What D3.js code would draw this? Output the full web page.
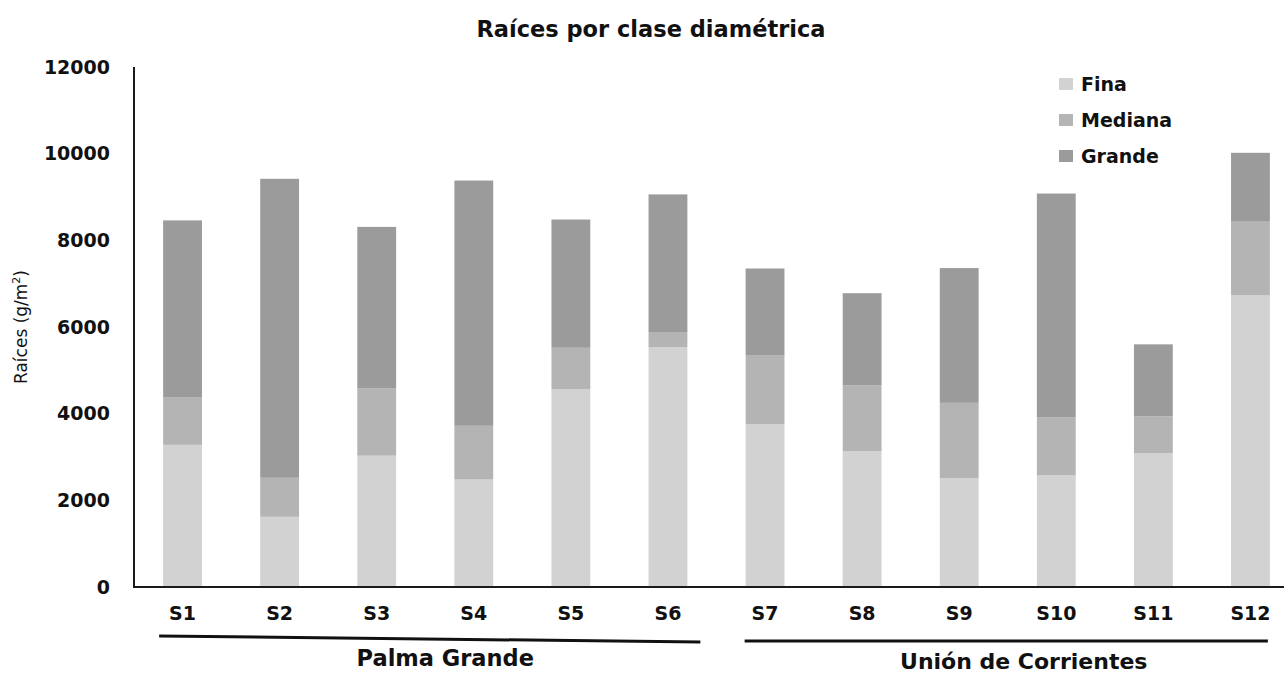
<!DOCTYPE html>
<html>
<head>
<meta charset="utf-8">
<script src="https://cdn.jsdelivr.net/npm/d3@7"></script>
<style>
  html, body { margin: 0; padding: 0; background: #fff; }
  svg { display: block; }
  text { font-family: "DejaVu Sans", sans-serif; fill: #111; }
</style>
</head>
<body>
<svg id="chart" width="1284" height="673"></svg>
<script>
// Root biomass per diameter class for each site (g/m²)
const sites   = ["S1","S2","S3","S4","S5","S6","S7","S8","S9","S10","S11","S12"];
const fina    = [3280, 1620, 3030, 2480, 4570, 5530, 3760, 3130, 2510, 2580, 3090, 6730];
const mediana = [1090,  900, 1560, 1240,  950,  340, 1580, 1520, 1740, 1340,  850, 1700];
const grande  = [4090, 6900, 3720, 5660, 2960, 3190, 2010, 2130, 3110, 5160, 1660, 1590];
const classes = ["Fina", "Mediana", "Grande"];
const colors  = ["#d2d2d2", "#b4b4b4", "#9b9b9b"];
const yTicks  = [0, 2000, 4000, 6000, 8000, 10000, 12000];
const groups  = [
  { name: "Palma Grande",        first: "S1", last: "S6" },
  { name: "Unión de Corrientes", first: "S7", last: "S12" }
];

const svg = d3.select("#chart");
const W = 1284;
const plotLeft = 134, plotBottom = 587, plotTop = 67;

const x = d3.scaleBand().domain(sites).range([plotLeft, 1299]).paddingInner(0.6).paddingOuter(0.3);
const y = d3.scaleLinear().domain([0, 12000]).range([plotBottom, plotTop]);

const rows = sites.map((s, i) => ({ site: s, Fina: fina[i], Mediana: mediana[i], Grande: grande[i] }));
const stacked = d3.stack().keys(classes)(rows);

// Title
svg.append("text")
  .attr("x", 651).attr("y", 37)
  .attr("text-anchor", "middle")
  .attr("font-size", 22.5).attr("font-weight", "bold")
  .text("Raíces por clase diamétrica");

// Stacked bars
svg.append("g").selectAll("g")
  .data(stacked)
  .join("g")
  .attr("fill", (d, i) => colors[i])
  .selectAll("rect")
  .data(d => d)
  .join("rect")
  .attr("x", d => x(d.data.site))
  .attr("width", x.bandwidth())
  .attr("y", d => y(d[1]))
  .attr("height", d => y(d[0]) - y(d[1]));

// Y axis
const yAxis = svg.append("g")
  .attr("transform", `translate(${plotLeft},0)`)
  .call(d3.axisLeft(y).tickValues(yTicks).tickSize(0).tickPadding(24).tickFormat(d3.format("d")));
yAxis.select(".domain").remove();
yAxis.selectAll("text")
  .attr("font-size", 19).attr("font-weight", "bold")
  .attr("font-family", "DejaVu Sans, sans-serif").attr("fill", "#111");

svg.append("line")
  .attr("x1", plotLeft).attr("x2", plotLeft).attr("y1", plotTop).attr("y2", plotBottom + 1)
  .attr("stroke", "#1a1a1a").attr("stroke-width", 2);

// X axis
const xAxis = svg.append("g")
  .attr("transform", `translate(0,${plotBottom})`)
  .call(d3.axisBottom(x).tickSize(0).tickPadding(20));
xAxis.select(".domain").remove();
xAxis.selectAll("text")
  .attr("font-size", 19).attr("font-weight", "bold")
  .attr("font-family", "DejaVu Sans, sans-serif").attr("fill", "#111");

svg.append("line")
  .attr("x1", plotLeft - 1).attr("x2", W).attr("y1", plotBottom).attr("y2", plotBottom)
  .attr("stroke", "#1a1a1a").attr("stroke-width", 2);

// Y axis title with superscript unit
const yTitle = svg.append("text")
  .attr("transform", `translate(27,327) rotate(-90)`)
  .attr("text-anchor", "middle")
  .attr("font-size", 17);
yTitle.append("tspan").text("Raíces (g/m");
yTitle.append("tspan").attr("font-size", 11).attr("dy", -7).text("2");
yTitle.append("tspan").attr("dy", 7).text(")");

// Site group brackets
const gLines = [
  { x1: x("S1") - 4, y1: 636, x2: x("S6") + x.bandwidth() + 13, y2: 642, ty: 666, dx: 20, fs: 22.5 },
  { x1: x("S7") - 1, y1: 641, x2: x("S12") + x.bandwidth() - 2, y2: 641, ty: 669, dx: 16, fs: 22 }
];
groups.forEach((g, i) => {
  const l = gLines[i];
  svg.append("line")
    .attr("x1", l.x1).attr("y1", l.y1).attr("x2", l.x2).attr("y2", l.y2)
    .attr("stroke", "#111").attr("stroke-width", 3);
  svg.append("text")
    .attr("x", (x(g.first) + x(g.last) + x.bandwidth()) / 2 + l.dx)
    .attr("y", l.ty)
    .attr("text-anchor", "middle")
    .attr("font-size", l.fs).attr("font-weight", "bold")
    .text(g.name);
});

// Legend
const legend = svg.append("g").attr("transform", "translate(1059,78)");
classes.forEach((c, i) => {
  const row = legend.append("g").attr("transform", `translate(0,${i * 36})`);
  row.append("rect").attr("width", 14).attr("height", 12).attr("fill", colors[i]);
  row.append("text")
    .attr("x", 22).attr("y", 12.5)
    .attr("font-size", 19).attr("font-weight", "bold")
    .text(c);
});
</script>
</body>
</html>
